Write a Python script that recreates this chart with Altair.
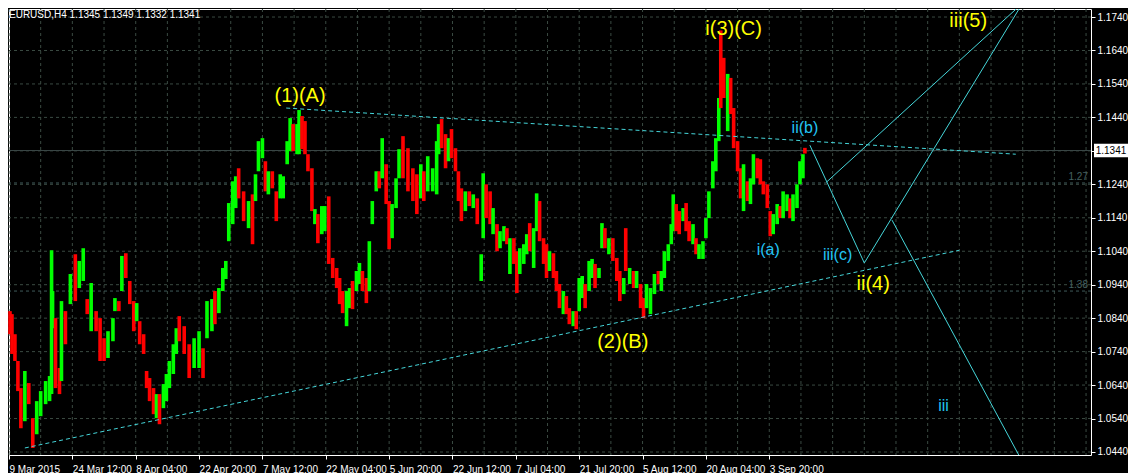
import altair as alt
import pandas as pd

# ---------------- data ----------------
symbol = "EURUSD"
timeframe = "H4"
last_ohlc = [1.1345, 1.1349, 1.1332, 1.1341]
last_close = last_ohlc[3]

# H4 bar number (from 9 Mar 2015) of each sampled candle
bars = [1, 3, 6, 9, 12, 16, 20, 24, 28, 32,
        37, 41, 43, 44, 47, 51, 53, 57, 62, 67,
        71, 75, 79, 83, 88, 92, 96, 100, 105, 107,
        111, 114, 118, 122, 126, 129, 132, 136, 139, 142,
        146, 149, 152, 156, 159, 162, 166, 169, 172, 177,
        182, 187, 192, 196, 200, 205, 208, 212, 216, 219,
        222, 226, 229, 232, 237, 242, 246, 249, 252, 256,
        259, 262, 266, 270, 274, 277, 281, 284, 287, 291,
        293, 296, 299, 302, 306, 309, 312, 316, 319, 323,
        327, 331, 334, 337, 341, 344, 347, 351, 354, 357,
        361, 364, 367, 371, 374, 377, 381, 384, 387, 391,
        394, 398, 403, 408, 412, 416, 419, 423, 428, 432,
        434, 437, 441, 444, 447, 451, 454, 457, 461, 465,
        469, 473, 477, 479, 482, 486, 489, 493, 496, 500,
        503, 506, 510, 513, 516, 520, 523, 526, 530, 533,
        536, 540, 543, 546, 550, 553, 556, 560, 563, 566,
        570, 573, 576, 579, 582, 586, 589, 592, 596, 599,
        602, 606, 610, 614, 617, 621, 623, 627, 631, 634,
        638, 641, 644, 648, 652, 656, 659, 662, 666, 669,
        671, 674, 677, 681, 684, 687, 691, 694, 697, 701,
        704, 707, 711, 714, 717, 719, 722, 726, 729, 732,
        736, 739, 742, 746, 749, 752, 756, 759, 762, 766,
        769, 772, 776, 779, 782, 786, 789, 792, 796, 799,
        802, 804]

highs = [1.0861, 1.0852, 1.0792, 1.0712, 1.0631, 1.0682, 1.0646, 1.0541, 1.0592, 1.0622,
         1.0652, 1.0667, 1.1043, 1.0921, 1.0840, 1.0691, 1.0891, 1.0861, 1.0972, 1.1031,
         1.1011, 1.1049, 1.0897, 1.0945, 1.0861, 1.0840, 1.0780, 1.0801, 1.0840, 1.0900,
         1.0891, 1.1026, 1.1034, 1.0951, 1.0891, 1.0885, 1.0831, 1.0792, 1.0682, 1.0661,
         1.0631, 1.0613, 1.0613, 1.0643, 1.0673, 1.0712, 1.0762, 1.0810, 1.0846, 1.0816,
         1.0762, 1.0780, 1.0801, 1.0750, 1.0891, 1.0897, 1.0921, 1.0930, 1.0990, 1.1011,
         1.1184, 1.1249, 1.1264, 1.1288, 1.1219, 1.1190, 1.1210, 1.1270, 1.1369, 1.1378,
         1.1309, 1.1279, 1.1279, 1.1219, 1.1270, 1.1264, 1.1369, 1.1438, 1.1420, 1.1420,
         1.1462, 1.1444, 1.1429, 1.1330, 1.1288, 1.1166, 1.1151, 1.1175, 1.1175, 1.1204,
         1.1020, 1.0990, 1.0960, 1.0921, 1.0921, 1.0930, 1.0951, 1.0981, 1.1005, 1.0981,
         1.0960, 1.1070, 1.1190, 1.1279, 1.1279, 1.1378, 1.1300, 1.1190, 1.1181, 1.1258,
         1.1345, 1.1384, 1.1348, 1.1288, 1.1270, 1.1300, 1.1279, 1.1324, 1.1288, 1.1369,
         1.1420, 1.1435, 1.1390, 1.1378, 1.1405, 1.1348, 1.1279, 1.1228, 1.1219, 1.1219,
         1.1210, 1.1198, 1.1031, 1.1273, 1.1240, 1.1219, 1.1169, 1.1121, 1.1100, 1.1115,
         1.1109, 1.1079, 1.1079, 1.1040, 1.1049, 1.1061, 1.1091, 1.1124, 1.1109, 1.1213,
         1.1190, 1.1079, 1.1061, 1.1040, 1.1034, 1.0981, 1.0942, 1.0921, 1.0906, 1.0870,
         1.0861, 1.0861, 1.0960, 1.0966, 1.0942, 1.1011, 1.1017, 1.1002, 1.0990, 1.1124,
         1.1109, 1.1079, 1.1079, 1.1020, 1.0981, 1.0960, 1.1109, 1.0990, 1.0981, 1.0981,
         1.0942, 1.0900, 1.0942, 1.0930, 1.0972, 1.0981, 1.0981, 1.1040, 1.1061, 1.1121,
         1.1210, 1.1181, 1.1160, 1.1169, 1.1184, 1.1130, 1.1121, 1.1079, 1.1061, 1.1070,
         1.1139, 1.1219, 1.1309, 1.1378, 1.1498, 1.1700, 1.1618, 1.1570, 1.1558, 1.1468,
         1.1369, 1.1288, 1.1300, 1.1249, 1.1258, 1.1330, 1.1318, 1.1315, 1.1249, 1.1240,
         1.1160, 1.1151, 1.1181, 1.1175, 1.1219, 1.1210, 1.1198, 1.1210, 1.1240, 1.1309,
         1.1330, 1.1349]

lows = [1.0792, 1.0733, 1.0712, 1.0622, 1.0511, 1.0532, 1.0583, 1.0452, 1.0493, 1.0547,
        1.0583, 1.0592, 1.0613, 1.0810, 1.0631, 1.0613, 1.0652, 1.0762, 1.0882, 1.0891,
        1.0930, 1.0951, 1.0852, 1.0801, 1.0801, 1.0712, 1.0712, 1.0721, 1.0771, 1.0861,
        1.0861, 1.0921, 1.0960, 1.0882, 1.0801, 1.0831, 1.0762, 1.0733, 1.0631, 1.0592,
        1.0553, 1.0541, 1.0523, 1.0571, 1.0592, 1.0631, 1.0673, 1.0733, 1.0771, 1.0733,
        1.0661, 1.0691, 1.0691, 1.0661, 1.0780, 1.0801, 1.0822, 1.0855, 1.0921, 1.0957,
        1.1070, 1.1121, 1.1169, 1.1198, 1.1130, 1.1109, 1.1061, 1.1190, 1.1279, 1.1318,
        1.1219, 1.1210, 1.1228, 1.1130, 1.1198, 1.1198, 1.1300, 1.1339, 1.1339, 1.1330,
        1.1330, 1.1345, 1.1330, 1.1279, 1.1160, 1.1121, 1.1064, 1.1091, 1.1100, 1.1002,
        1.0960, 1.0930, 1.0882, 1.0855, 1.0816, 1.0870, 1.0867, 1.0921, 1.0942, 1.0921,
        1.0885, 1.0921, 1.1121, 1.1219, 1.1228, 1.1258, 1.1181, 1.1046, 1.1079, 1.1169,
        1.1258, 1.1258, 1.1219, 1.1190, 1.1151, 1.1198, 1.1190, 1.1219, 1.1219, 1.1210,
        1.1330, 1.1348, 1.1288, 1.1309, 1.1318, 1.1279, 1.1190, 1.1130, 1.1160, 1.1175,
        1.1169, 1.1121, 1.0951, 1.1079, 1.1139, 1.1121, 1.1091, 1.1040, 1.1049, 1.1070,
        1.1061, 1.0972, 1.1002, 1.0915, 1.0972, 1.1002, 1.1031, 1.1040, 1.0990, 1.1100,
        1.1070, 1.1002, 1.0960, 1.0981, 1.0960, 1.0921, 1.0870, 1.0852, 1.0852, 1.0822,
        1.0816, 1.0807, 1.0861, 1.0900, 1.0870, 1.0921, 1.0960, 1.0930, 1.0960, 1.1049,
        1.1049, 1.1031, 1.1011, 1.0951, 1.0891, 1.0912, 1.0981, 1.0942, 1.0930, 1.0930,
        1.0870, 1.0840, 1.0870, 1.0852, 1.0912, 1.0942, 1.0921, 1.0960, 1.1011, 1.1061,
        1.1100, 1.1100, 1.1091, 1.1130, 1.1100, 1.1070, 1.1061, 1.1031, 1.1017, 1.1017,
        1.1079, 1.1139, 1.1228, 1.1279, 1.1369, 1.1468, 1.1498, 1.1399, 1.1450, 1.1348,
        1.1279, 1.1198, 1.1160, 1.1190, 1.1181, 1.1240, 1.1258, 1.1240, 1.1210, 1.1169,
        1.1085, 1.1091, 1.1121, 1.1139, 1.1139, 1.1160, 1.1139, 1.1130, 1.1169, 1.1240,
        1.1258, 1.1332]

# u = bullish candle, d = bearish candle
dirs = ("dddddudduu" "uuuuddudud" "uududdduuu" "dudddudddd" "duduuuuudd"
        "duuduuduuu" "uuudduduuu" "dudduuuudu" "udddduduud" "dddduuduud"
        "duuududduu" "udddduduuu" "udduddddud" "uduudduduu" "dudduuuduu"
        "dddudddudd" "uduuduuduu" "dudddududu" "dduuuduuuu" "uddudduduu"
        "uuuuuddudd" "dduduudddd" "duuduuduuu" "ud")

time_labels = ["9 Mar 2015", "24 Mar 12:00", "8 Apr 04:00", "22 Apr 20:00",
               "7 May 12:00", "22 May 04:00", "5 Jun 20:00", "22 Jun 12:00",
               "7 Jul 04:00", "21 Jul 20:00", "5 Aug 12:00", "20 Aug 04:00",
               "3 Sep 20:00"]
bars_per_label = 64
bars_per_grid = 32
last_bar_shown = 1093

price_ticks = [1.0440, 1.0540, 1.0640, 1.0740, 1.0840, 1.0940, 1.1040,
               1.1140, 1.1240, 1.1340, 1.1440, 1.1540, 1.1640, 1.1740]
price_domain = [1.0431, 1.1764]

# trend lines (dashed)
trend_id = ["upper", "upper", "lower", "lower"]
trend_bar = [280, 1017, 16, 960]
trend_price = [1.1468, 1.1330, 1.0452, 1.1043]

# wave projection lines (solid)
wave_id = ["a", "a", "b", "b", "c", "c", "d", "d"]
wave_bar = [809, 864, 864, 1024, 826, 1024, 892, 1020]
wave_price = [1.1357, 1.1005, 1.1005, 1.1782, 1.1247, 1.1782, 1.1133, 1.0431]

# fibonacci levels
fib_names = ["1.27", "1.38"]
fib_price = [1.1244, 1.0921]

# wave labels
major_text = ["(1)(A)", "(2)(B)", "i(3)(C)", "ii(4)", "iii(5)"]
major_bar = [294, 620, 732, 873, 969]
major_price = [1.1504, 1.0768, 1.1704, 1.0942, 1.1728]

minor_text = ["ii(b)", "i(a)", "iii(c)", "iii"]
minor_bar = [804, 767, 837, 944]
minor_price = [1.1408, 1.1043, 1.1029, 1.0577]

# ---------------- chart ----------------
W, H = 1082, 446
FONT = "Liberation Sans"
GRID = "#3a4a42"
CYAN = "#45d6da"

n = min(len(bars), len(highs), len(lows), len(dirs))
candles_df = pd.DataFrame({"bar": bars[:n], "high": highs[:n], "low": lows[:n],
                           "dir": list(dirs[:n])})

xs = alt.Scale(domain=[0, last_bar_shown], nice=False, zero=False)
ys = alt.Scale(domain=price_domain, nice=False, zero=False)

grid_bars = list(range(0, last_bar_shown + 1, bars_per_grid))
label_arr = "[" + ",".join("'" + s + "'" for s in time_labels) + "]"
is_label = f"(datum.value % {bars_per_label} == 0 && datum.value / {bars_per_label} < {len(time_labels)})"

x_axis = alt.Axis(
    values=grid_bars,
    labelExpr=f"{is_label} ? {label_arr}[datum.value / {bars_per_label}] : ''",
    labelAlign="left", labelColor="white", labelFont=FONT, labelFontSize=10,
    labelPadding=5, labelOverlap=False, labelFlush=False,
    tickSize=4, tickColor="white",
    tickOpacity={"condition": {"test": is_label, "value": 1}, "value": 0},
    grid=False, domain=False, title=None,
)
y_axis = alt.Axis(
    orient="right", values=price_ticks,
    labelExpr=f"abs(datum.value - {last_close}) < 0.0005 ? '' : format(datum.value, '.4f')",
    labelColor="white", labelFont=FONT, labelFontSize=10, labelPadding=2,
    labelOverlap=False, labelFlush=False,
    tickSize=4, tickColor="white",
    grid=False, domain=False, title=None,
)

# every layer shares the very same axis definitions
X = lambda f: alt.X(f, type="quantitative", scale=xs, axis=x_axis)
Y = lambda f: alt.Y(f, type="quantitative", scale=ys, axis=y_axis)

# dashed chart grid, one line per axis value
vgrid = alt.Chart(pd.DataFrame({"bar": grid_bars})).mark_rule(
    color=GRID, strokeDash=[3, 3], strokeWidth=1).encode(x=X("bar"))
hgrid = alt.Chart(pd.DataFrame({"price": price_ticks})).mark_rule(
    color=GRID, strokeDash=[3, 3], strokeWidth=1).encode(y=Y("price"))

candles = alt.Chart(candles_df).mark_rule(strokeWidth=3.6).encode(
    x=X("bar"),
    y=Y("low"),
    y2="high:Q",
    color=alt.Color("dir:N", scale=alt.Scale(domain=["u", "d"], range=["#00ff00", "#ff0000"]),
                    legend=None),
)

fib_df = pd.DataFrame({"name": fib_names, "price": fib_price})
fib_lines = alt.Chart(fib_df).mark_rule(color="#3f5a5a", strokeDash=[3, 3], strokeWidth=1).encode(
    y=Y("price"))
fib_text = alt.Chart(fib_df).mark_text(color="#456060", font=FONT, fontSize=10, align="right",
                                        baseline="bottom", dy=-1).encode(
    y=Y("price"), x=alt.value(W - 3), text="name:N")

bid_df = pd.DataFrame({"price": [last_close], "label": [f"{last_close:.4f}"]})
bid_line = alt.Chart(bid_df).mark_rule(color="#3a4847", strokeWidth=1).encode(y=Y("price"))
tag_shape = "M-1,-0.4L1,-0.4L1,0.4L-1,0.4Z"
bid_box = alt.Chart(bid_df).mark_point(shape=tag_shape, size=34 * 34, filled=True, color="white",
                                        opacity=1, strokeWidth=0, clip=False).encode(
    y=Y("price"), x=alt.value(W + 20))
bid_text = alt.Chart(bid_df).mark_text(color="black", font=FONT, fontSize=10, align="center",
                                        baseline="middle").encode(
    y=Y("price"), x=alt.value(W + 20), text="label:N")

trend_df = pd.DataFrame({"id": trend_id, "bar": trend_bar, "price": trend_price})
trends = alt.Chart(trend_df).mark_line(color=CYAN, strokeDash=[4, 3], strokeWidth=1, clip=True).encode(
    x=X("bar"), y=Y("price"), detail="id:N")

wave_df = pd.DataFrame({"id": wave_id, "bar": wave_bar, "price": wave_price})
waves = alt.Chart(wave_df).mark_line(color=CYAN, strokeWidth=1, clip=True).encode(
    x=X("bar"), y=Y("price"), detail="id:N")

major_df = pd.DataFrame({"text": major_text, "bar": major_bar, "price": major_price})
major = alt.Chart(major_df).mark_text(color="#ffff00", font=FONT, fontSize=20, align="center",
                                       baseline="middle").encode(
    x=X("bar"), y=Y("price"), text="text:N")

minor_df = pd.DataFrame({"text": minor_text, "bar": minor_bar, "price": minor_price})
minor = alt.Chart(minor_df).mark_text(color="#22c4f4", font=FONT, fontSize=16, align="center",
                                       baseline="middle").encode(
    x=X("bar"), y=Y("price"), text="text:N")

header = f"{symbol},{timeframe}  " + " ".join(f"{v:.4f}" for v in last_ohlc)
header_df = pd.DataFrame({"t": [header]})
head = alt.Chart(header_df).mark_text(color="white", font=FONT, fontSize=10, align="left",
                                       baseline="top").encode(
    x=alt.value(0), y=alt.value(1), text="t:N")

chart = alt.layer(
    vgrid, hgrid, fib_lines, fib_text, bid_line, candles, trends, waves, major, minor, head,
    bid_box, bid_text
).properties(width=W, height=H, background="#000000", padding=0).configure_view(
    fill="#000000", stroke="white", strokeWidth=1
)

chart.save("out.html", embed_options={"renderer": "svg", "actions": False})
